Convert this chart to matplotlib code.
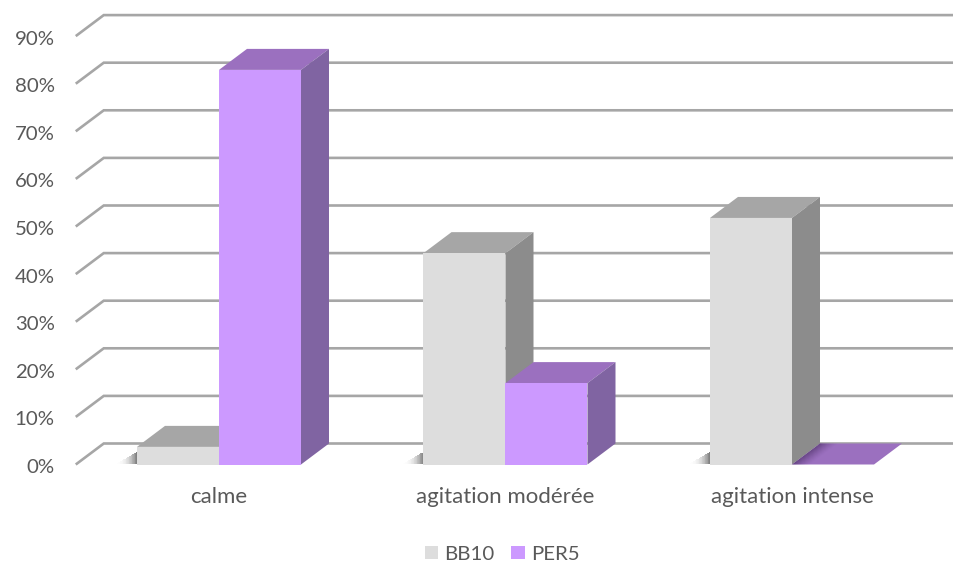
import numpy as np
import matplotlib
matplotlib.use("Agg")
import matplotlib.pyplot as plt
from matplotlib.patches import Polygon, Patch
from matplotlib.transforms import ScaledTranslation

categories = ["calme", "agitation modérée", "agitation intense"]
bb10 = [3.7, 44.4, 51.8]
per5 = [82.9, 17.1, 0.0]
yticks = [0, 10, 20, 30, 40, 50, 60, 70, 80, 90]

plt.rcParams['font.family'] = ['Lato', 'DejaVu Sans']
W, H = 954, 566
fig = plt.figure(figsize=(W / 100, H / 100), dpi=100, facecolor='white')
ax = fig.add_axes([75.75 / W, 1 - 464.5 / H, 859.5 / W, 428.4 / H])
ax.set_xlim(-0.5, 2.5)
ax.set_ylim(0, 90)
for s in ax.spines.values():
    s.set_visible(False)
ax.patch.set_visible(False)

PXX = 859.5 / 3
PXY = 428.4 / 90
DX = 28 / PXX
DY = 21 / PXY
BW = 82 / PXX
GRID = '#A6A6A6'

for v in yticks:
    ax.plot([-0.5, -0.5 + DX, 2.5 + DX], [v, v + DY, v + DY], color=GRID, lw=1.9,
            clip_on=False, zorder=1, solid_joinstyle='miter', solid_capstyle='butt')


def box(x0, v, front, top, side, z):
    ax.bar(x0 + BW / 2, v, width=BW, color=front, zorder=z + 0.2, linewidth=0)
    ax.add_patch(Polygon([(x0, v), (x0 + DX, v + DY), (x0 + BW + DX, v + DY), (x0 + BW, v)],
                         closed=True, fc=top, ec='none', zorder=z, clip_on=False))
    if v > 0:
        ax.add_patch(Polygon([(x0 + BW, 0), (x0 + BW + DX, DY), (x0 + BW + DX, v + DY), (x0 + BW, v)],
                             closed=True, fc=side, ec='none', zorder=z, clip_on=False))


for i, (a, b) in enumerate(zip(bb10, per5)):
    z = 2 + i * 2
    box(i - BW, a, '#DDDDDD', '#A6A6A6', '#8C8C8C', z)
    box(i, b, '#CC99FF', '#9B70BF', '#8064A2', z + 0.5)

    # soft contact shadow at the left foot of the grey bar
    xl = i - BW
    sw = 22 / PXX
    n = 30
    xs = np.linspace(xl - sw, xl, n)
    for k in range(n - 1):
        t = (k + 1) / (n - 1)
        ax.fill_between(xs[k:k + 2], 0, 2.6 * t, color=(0.42, 0.42, 0.42),
                        alpha=0.85 * t ** 2.5, linewidth=0, zorder=1.5)

ax.set_xlim(-0.5, 2.5)
ax.set_ylim(0, 90)

# darker fringe on the flat purple top next to the grey side wall
x0 = 2.0
n = 14
for k in range(n):
    f0, f1 = k / n, (k + 1) / n
    ax.add_patch(Polygon([(x0 + f0 * 18 / PXX, 0), (x0 + f1 * 18 / PXX, 0),
                          (x0 + DX + f1 * 18 / PXX, DY), (x0 + DX + f0 * 18 / PXX, DY)],
                         closed=True, fc=(0.25, 0.15, 0.35), alpha=0.6 * (1 - f0) ** 1.5,
                         ec='none', zorder=9, clip_on=False))

ax.set_yticks(yticks)
ax.set_yticklabels([f"{v}%" for v in yticks])
ax.set_xticks(range(len(categories)))
ax.set_xticklabels(categories)
ax.tick_params(axis='y', length=0, pad=15.2, labelsize=14.7, labelcolor='#595959')
ax.tick_params(axis='x', length=0, pad=16, labelsize=16, labelcolor='#595959')
shift = ScaledTranslation(0, -1.5 / 100, fig.dpi_scale_trans)
for lab in ax.get_yticklabels():
    lab.set_transform(lab.get_transform() + shift)

handles = [Patch(facecolor='#DDDDDD', label='BB10'), Patch(facecolor='#CC99FF', label='PER5')]
fig.legend(handles=handles, loc='center', bbox_to_anchor=(502 / W, 1 - 554 / H), ncol=2, frameon=False,
           fontsize=14.7, labelcolor='#595959', handlelength=0.64, handleheight=0.64,
           handletextpad=0.3, columnspacing=0.85, borderpad=0)

fig.savefig('out.png', dpi=100, facecolor='white')
